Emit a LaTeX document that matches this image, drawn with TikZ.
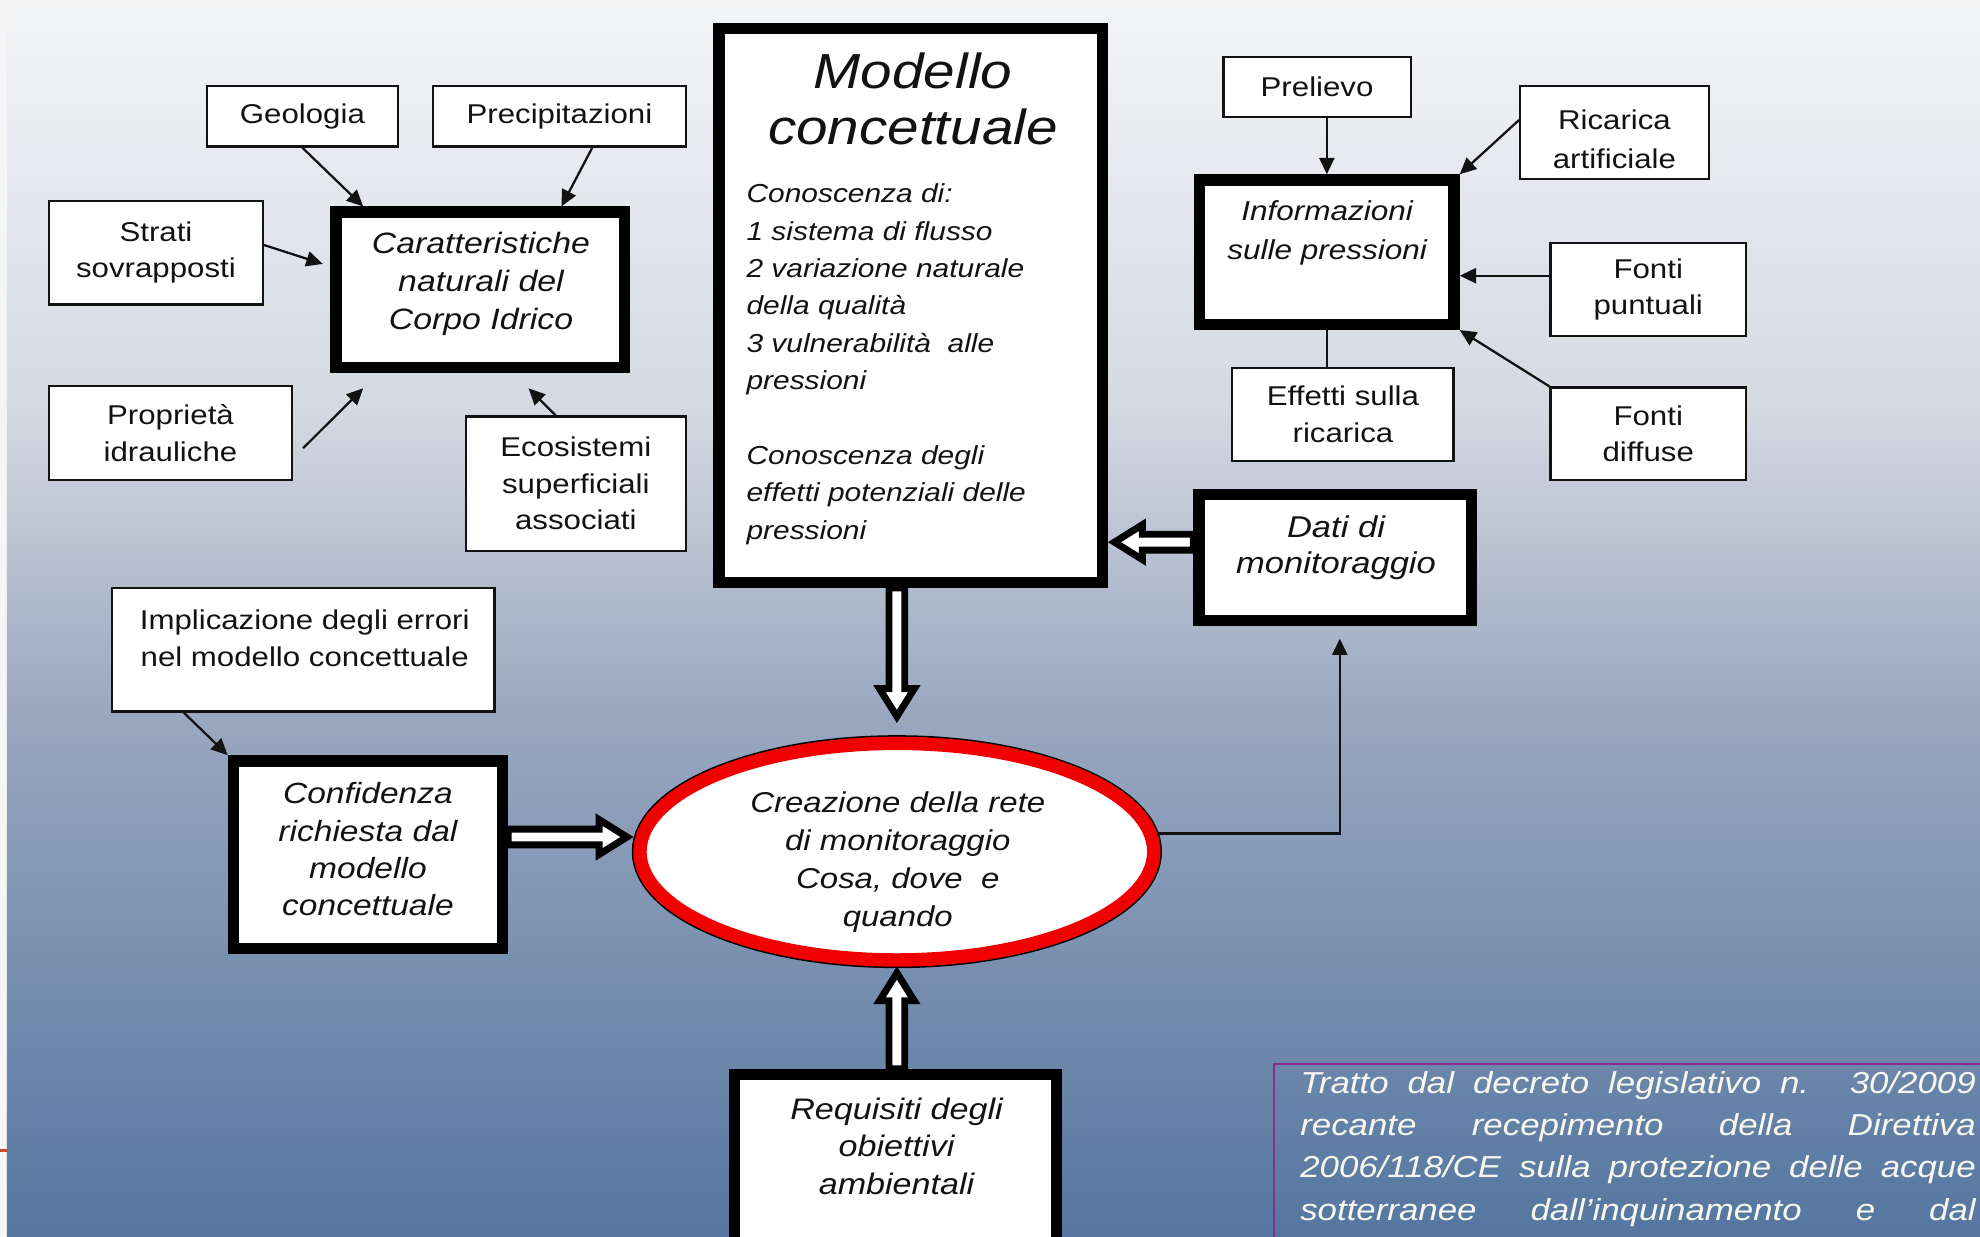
\documentclass[tikz,border=0pt]{standalone}
\usepackage{fontspec}
\setmainfont{Liberation Sans}[FakeStretch=1.15]
\usetikzlibrary{arrows.meta,shapes.geometric,calc}
\definecolor{bgA}{RGB}{243,244,246}
\definecolor{bgB}{RGB}{213,217,226}
\definecolor{bgC}{RGB}{155,168,192}
\definecolor{bgD}{RGB}{84,118,160}
\definecolor{edge}{RGB}{245,245,245}
\definecolor{txt}{RGB}{18,18,18}
\definecolor{redring}{RGB}{240,0,0}
\definecolor{purp}{RGB}{140,45,145}
\definecolor{orng}{RGB}{192,80,45}
\definecolor{foottxt}{RGB}{248,248,240}
\newcommand\hwid{6.25}
\newcommand\hhead{13.75}
\newcommand\hlen{22}
\newcommand\tshort{5}
\newcommand\mystrut[1]{\rule{0pt}{#1pt}}
\begin{document}
\begin{tikzpicture}[x=1pt,y=-1pt,
  thinbox/.style={draw=txt, line width=1.8pt, fill=white, inner sep=0pt},
  thickbox/.style={draw=black, line width=9pt, fill=white, inner sep=0pt},
  ptext/.style={font=\fontsize{21.5}{29}\selectfont, text=txt, align=center},
  itext/.style={text=txt, align=center},
  tnode/.style={inner sep=0pt, anchor=north, text=txt, align=center},
  arr/.style={draw=txt, line width=1.8pt, -{Triangle[length=13pt,width=12pt]}},
  con/.style={draw=txt, line width=1.8pt},
  hollow/.style={draw=black, fill=white, line width=5.5pt, line join=miter,
    to path={let \p1=(\tikztostart), \p2=(\tikztotarget),
      \n1={veclen(\x2-\x1,\y2-\y1)}, \n2={(\x2-\x1)/\n1}, \n3={(\y2-\y1)/\n1} in
      ({\x1-\n3*\hwid},{\y1+\n2*\hwid})
      -- ({\x2-\n2*(\hlen+\tshort)-\n3*\hwid},{\y2-\n3*(\hlen+\tshort)+\n2*\hwid})
      -- ({\x2-\n2*(\hlen+\tshort)-\n3*\hhead},{\y2-\n3*(\hlen+\tshort)+\n2*\hhead})
      -- ({\x2-\n2*\tshort},{\y2-\n3*\tshort})
      -- ({\x2-\n2*(\hlen+\tshort)+\n3*\hhead},{\y2-\n3*(\hlen+\tshort)-\n2*\hhead})
      -- ({\x2-\n2*(\hlen+\tshort)+\n3*\hwid},{\y2-\n3*(\hlen+\tshort)-\n2*\hwid})
      -- ({\x1+\n3*\hwid},{\y1-\n2*\hwid}) -- cycle}}
]
\useasboundingbox (0,0) rectangle (1568,979);
\clip (0,0) rectangle (1568,979);
% background
\fill[edge] (0,0) rectangle (1568,979);
\shade[top color=bgA, bottom color=bgB] (5.5,6) rectangle (1568,320.5);
\shade[top color=bgB, bottom color=bgC] (5.5,320) rectangle (1568,560.5);
\shade[top color=bgC, bottom color=bgD] (5.5,560) rectangle (1568,979);
\fill[orng] (0,909.8) rectangle (5.5,912.4);

% footnote frame
\node[draw=purp, line width=2pt, inner sep=0pt, minimum width=700pt, minimum height=300pt, anchor=north west] (foot) at (1007.8,841.5) {};

% thin boxes
\node[thinbox, ptext, minimum width=151.2pt, minimum height=48.2pt] (geo) at (239.5,92) {Geologia};
\node[thinbox, ptext, minimum width=200.2pt, minimum height=48.2pt] (prec) at (443,92) {Precipitazioni};
\node[thinbox, ptext, minimum width=169.2pt, minimum height=82.2pt] (strati) at (123.5,200) {Strati\\sovrapposti};
\node[thinbox, ptext, minimum width=192.2pt, minimum height=74.2pt] (prop) at (135,343) {Proprietà\\idrauliche};
\node[thinbox, ptext, minimum width=174.2pt, minimum height=106.2pt] (eco) at (456,383) {Ecosistemi\\superficiali\\associati};
\node[thinbox, ptext, minimum width=148.2pt, minimum height=47.7pt] (prel) at (1043,68.75) {Prelievo};
\node[thinbox, minimum width=149.2pt, minimum height=73.3pt] (ric) at (1278.5,105) {};
\node[thinbox, ptext, minimum width=154.7pt, minimum height=73.5pt] (fp) at (1305.25,229.35) {Fonti\\puntuali};
\node[thinbox, ptext, minimum width=175.2pt, minimum height=73.7pt] (eff) at (1063.5,328.25) {Effetti sulla\\ricarica};
\node[thinbox, ptext, minimum width=154.7pt, minimum height=73.2pt] (fd) at (1305.25,343.5) {Fonti\\diffuse};
\node[thinbox, minimum width=303.1pt, minimum height=97.9pt] (impl) at (240,514.5) {};

% thick boxes
\node[thickbox, minimum width=228.5pt, minimum height=123pt] (car) at (380.35,229.5) {};
\node[thickbox, minimum width=303.6pt, minimum height=438.6pt] (mod) at (721.3,241.8) {};
\node[thickbox, minimum width=201.5pt, minimum height=114.4pt] (info) at (1050.75,199.7) {};
\node[thickbox, minimum width=216pt, minimum height=99.7pt] (dati) at (1057.5,441.35) {};
\node[thickbox, minimum width=213.2pt, minimum height=148.7pt] (conf) at (291.4,676.85) {};
\node[thickbox, minimum width=254.9pt, minimum height=154.5pt] (req) at (709.25,928.25) {};

% ellipse
\node[ellipse, draw=redring, line width=10.6pt, fill=white, inner sep=0pt,
      minimum width=406.9pt, minimum height=171.5pt,
      preaction={draw=black, line width=13pt}] (ell) at (710.25,674.45) {};

% texts placed by first baseline
\node[tnode, font=\fontsize{21.5}{31}\selectfont] (ric-t) at (1278.5,78) {\mystrut{24}Ricarica\\artificiale};
\node[tnode, font=\fontsize{23.3}{30}\selectfont\itshape] (car-t) at (380.9,176.7) {\mystrut{24}Caratteristiche\\naturali del\\Corpo Idrico};
\node[tnode, font=\fontsize{39}{44}\selectfont\itshape] (mod-title) at (723,34) {\mystrut{36}Modello\\concettuale};
\node[tnode, anchor=north west, align=left, font=\fontsize{20.6}{29.6}\selectfont\itshape] (mod-body) at (591,138.4)
  {\mystrut{22}Conoscenza di:\\1 sistema di flusso\\2 variazione naturale\\della qualità\\3 vulnerabilità\ \ alle\\pressioni\\[29.6pt]Conoscenza degli\\effetti potenziali delle\\pressioni};
\node[tnode, font=\fontsize{21.7}{30.3}\selectfont\itshape] (info-t) at (1051,150.7) {\mystrut{24}Informazioni\\sulle pressioni};
\node[tnode, font=\fontsize{21.5}{29}\selectfont] (impl-t) at (241.3,474.5) {\mystrut{24}Implicazione degli errori\\nel modello concettuale};
\node[tnode, font=\fontsize{23.8}{28.8}\selectfont\itshape] (dati-t) at (1058,401.5) {\mystrut{24}Dati di\\monitoraggio};
\node[tnode, font=\fontsize{23.1}{29.5}\selectfont\itshape] (conf-t) at (291.4,612.3) {\mystrut{24}Confidenza\\richiesta dal\\modello\\concettuale};
\node[tnode, font=\fontsize{22.7}{30}\selectfont\itshape] (ell-t) at (711,619.2) {\mystrut{24}Creazione della rete\\di monitoraggio\\Cosa, dove\ \ e\\quando};
\node[tnode, font=\fontsize{23.5}{29.7}\selectfont\itshape] (req-t) at (710,862.2) {\mystrut{24}Requisiti degli\\obiettivi\\ambientali};
\node[tnode, anchor=north west, align=left, text=foottxt, font=\fontsize{24}{33.4}\selectfont\itshape] (foot-t) at (1029.5,841.8)
  {\mystrut{24}\makebox[535pt][s]{Tratto dal decreto legislativo n. 30/2009}\\
   \makebox[535pt][s]{recante recepimento della Direttiva}\\
   \makebox[535pt][s]{2006/118/CE sulla protezione delle acque}\\
   \makebox[535pt][s]{sotterranee dall’inquinamento e dal}};

% helper coordinates
\coordinate (fpA) at ([yshift=11pt]fp.west);
\coordinate (dA) at ([yshift=12pt]dati.west);
\coordinate (eA) at (ell.4);
\coordinate (dB) at ([xshift=3.5pt,yshift=-10pt]dati.south);
\coordinate (mA) at (ell.north |- mod.south);
\coordinate (mB) at ([yshift=11pt]ell.north);
\coordinate (cA) at ([yshift=14pt]conf.east);
\coordinate (rA) at (ell.south |- req.north);

% thin connectors
\draw[arr] (geo.south) -- ([xshift=26pt]car.north west);
\draw[arr] ([xshift=127pt]prec.south west) -- ([xshift=183pt]car.north west);
\draw[arr] ([yshift=6pt]strati.east) -- ([xshift=-6pt,yshift=20.5pt]car.west);
\draw[arr] ([xshift=8pt,yshift=-12pt]prop.east) -- ([xshift=26pt,yshift=-12pt]car.south west);
\draw[arr] ([xshift=72pt]eco.north west) -- ([xshift=157pt,yshift=-12pt]car.south west);
\draw[arr] (info.north |- prel.south) -- (info.north);
\draw[arr] ([yshift=10pt]ric.west) -- (info.north east);
\draw[arr] (fpA) -- (fpA -| info.east);
\draw[arr] (fd.north west) -- (info.south east);
\draw[con] (info.south) -- (info.south |- eff.north);
\draw[arr] ([xshift=58pt]impl.south west) -- (conf.north west);
\draw[arr] (eA) -| (dB);

% hollow arrows
\path[hollow] (dA) to (dA -| mod.east);
\path[hollow] (mA) to (mB);
\path[hollow] (cA) to (cA -| ell.west);
\path[hollow] (rA) to (ell.south);
\end{tikzpicture}
\end{document}
